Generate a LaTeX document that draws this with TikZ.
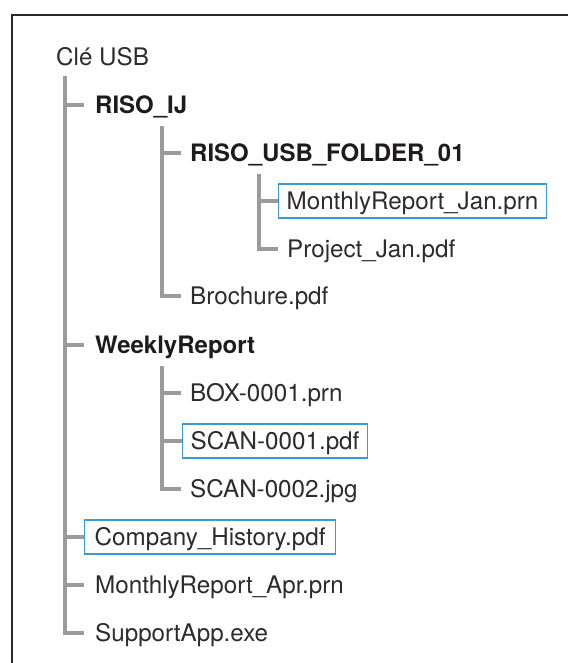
\documentclass[tikz,border=0pt]{standalone}
\usepackage{fontspec}
\setmainfont{TeX Gyre Heros}
\begin{document}
\begin{tikzpicture}[x=1pt,y=-1pt,
  txt/.style={anchor=west, inner ysep=0pt, inner xsep=9pt, text height=17.2pt, text depth=0pt,
    font=\fontsize{24.2}{28}\selectfont, text=textc},
  lvlone/.style={txt, inner xsep=11pt},
  folder/.style={font=\fontsize{24}{28}\bfseries\selectfont, text=boldc},
  boxed/.style={draw=boxc, line width=1.3pt, minimum height=34pt},
  branch/.style={draw=linec, line width=4pt},
  frame/.style={draw=framec, line width=2.2pt}]
\definecolor{textc}{HTML}{2E2B2C}
\definecolor{boldc}{HTML}{1E1B1C}
\definecolor{linec}{HTML}{9A9B9F}
\definecolor{boxc}{HTML}{3A9AD6}
\definecolor{framec}{HTML}{2A2A2A}
\useasboundingbox (0,0) rectangle (568,663);
\fill[white] (0,0) rectangle (568,663);
\draw[frame] (568,15) -- (12,15) -- (12,663);

% nodes
\node[txt, inner xsep=0pt] (usb) at (56,57) {Clé USB};
\node[lvlone, folder] (riso) at (84,105) {RISO\_IJ};
\node[txt, folder] (fold) at (181,153) {RISO\_USB\_FOLDER\_01};
\node[txt, boxed, inner xsep=8pt] (mjan) at (278,201) {MonthlyReport\_Jan.prn};
\node[txt] (pjan) at (278,249) {Project\_Jan.pdf};
\node[txt] (broch) at (181,296) {Brochure.pdf};
\node[lvlone, folder] (weekly) at (84,345) {WeeklyReport};
\node[txt] (box1) at (181,393) {BOX-0001.prn};
\node[txt, boxed, inner xsep=8pt] (scan1) at (182,441) {SCAN-0001.pdf};
\node[txt] (scan2) at (181,489) {SCAN-0002.jpg};
\node[txt, boxed, inner xsep=10pt] (comp) at (84,537) {Company\_History.pdf};
\node[lvlone] (mapr) at (84,585) {MonthlyReport\_Apr.prn};
\node[lvlone] (supp) at (84,633) {SupportApp.exe};

% spine tops
\coordinate (s1) at (65,76);
\coordinate (s2) at (162,126);
\coordinate (s3) at (259,174);
\coordinate (s4) at (162,366);

% level 1
\draw[branch] (s1) |- (supp.west);
\foreach \n in {riso,weekly,comp,mapr}
  \draw[branch] (s1 |- \n.west) -- (\n.west);
% RISO_IJ children
\draw[branch] (s2) |- (broch.west);
\draw[branch] (s2 |- fold.west) -- (fold.west);
% RISO_USB_FOLDER_01 children
\draw[branch] (s3) |- (pjan.west);
\draw[branch] (s3 |- mjan.west) -- (mjan.west);
% WeeklyReport children
\draw[branch] (s4) |- (scan2.west);
\draw[branch] (s4 |- box1.west) -- (box1.west);
\draw[branch] (s4 |- scan1.west) -- (scan1.west);
\end{tikzpicture}
\end{document}
